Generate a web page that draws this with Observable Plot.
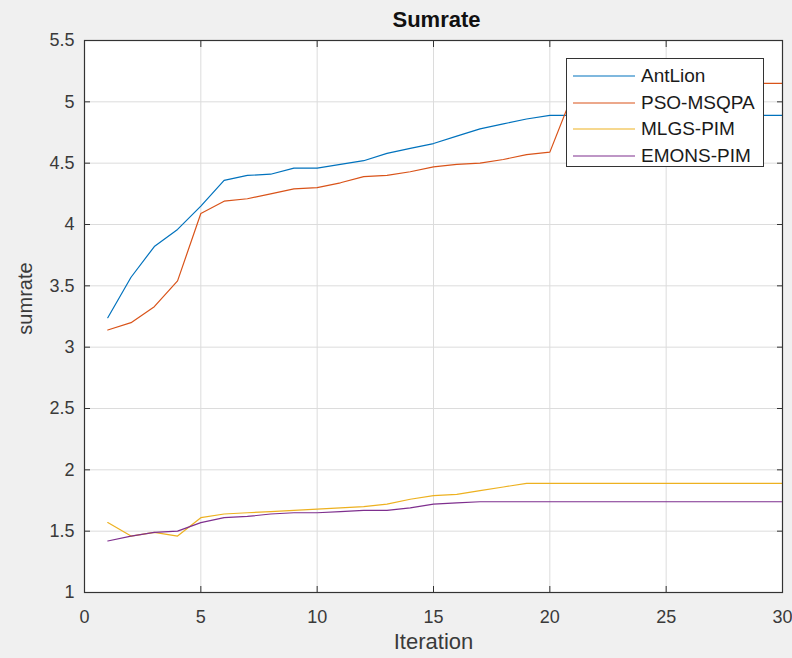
<!DOCTYPE html>
<html>
<head>
<meta charset="utf-8">
<script src="https://cdn.jsdelivr.net/npm/d3@7"></script>
<script src="https://cdn.jsdelivr.net/npm/@observablehq/plot@0.6"></script>
<style>
  html, body { margin: 0; padding: 0; background: #f0f0f0; }
  #wrap { position: relative; width: 792px; height: 658px; font-family: "Liberation Sans", Arial, sans-serif; }
  #legend { position: absolute; left: 566px; top: 58px; width: 196px; height: 107px; background: #fff; border: 1px solid #333; box-sizing: content-box; }
  .item { position: absolute; left: 0; height: 26px; display: flex; align-items: center; font-size: 19px; color: #1a1a1a; }
  .item svg { margin-left: 6px; margin-right: 6px; }
</style>
</head>
<body>
<div id="wrap"></div>
<script>
const iterations = [1,2,3,4,5,6,7,8,9,10,11,12,13,14,15,16,17,18,19,20,21,22,23,24,25,26,27,28,29,30];
const seriesNames = ["AntLion", "PSO-MSQPA", "MLGS-PIM", "EMONS-PIM"];
const antLion = [3.24,3.57,3.82,3.96,4.15,4.36,4.40,4.41,4.46,4.46,4.49,4.52,4.58,4.62,4.66,4.72,4.78,4.82,4.86,4.89,4.89,4.89,4.89,4.89,4.89,4.89,4.89,4.89,4.89,4.89];
const psoMsqpa = [3.14,3.20,3.33,3.54,4.09,4.19,4.21,4.25,4.29,4.30,4.34,4.39,4.40,4.43,4.47,4.49,4.50,4.53,4.57,4.59,5.07,5.15,5.15,5.15,5.15,5.15,5.15,5.15,5.15,5.15];
const mlgsPim = [1.57,1.46,1.49,1.46,1.61,1.64,1.65,1.66,1.67,1.68,1.69,1.70,1.72,1.76,1.79,1.80,1.83,1.86,1.89,1.89,1.89,1.89,1.89,1.89,1.89,1.89,1.89,1.89,1.89,1.89];
const emonsPim = [1.42,1.46,1.49,1.50,1.57,1.61,1.62,1.64,1.65,1.65,1.66,1.67,1.67,1.69,1.72,1.73,1.74,1.74,1.74,1.74,1.74,1.74,1.74,1.74,1.74,1.74,1.74,1.74,1.74,1.74];
const colors = ["#0072BD", "#D95319", "#EDB120", "#7E2F8E"];
const xTicks = [0,5,10,15,20,25,30];
const yTicks = [1,1.5,2,2.5,3,3.5,4,4.5,5,5.5];
const titleText = "Sumrate";
const xLabel = "Iteration";
const yLabel = "sumrate";

const allSeries = [antLion, psoMsqpa, mlgsPim, emonsPim];
const rows = [];
allSeries.forEach((vals, s) => vals.forEach((v, i) => rows.push({iteration: iterations[i], value: v, series: seriesNames[s]})));

const blank = () => "";
const plot = Plot.plot({
  width: 792,
  height: 658,
  marginLeft: 84,
  marginRight: 10,
  marginTop: 40,
  marginBottom: 66,
  style: {background: "#f0f0f0", fontFamily: "Liberation Sans, Arial, sans-serif", fontSize: "18px", color: "#333"},
  x: {domain: [0, 30]},
  y: {domain: [1, 5.5]},
  color: {domain: seriesNames, range: colors},
  marks: [
    Plot.frame({fill: "white", stroke: null}),
    Plot.gridX(xTicks, {stroke: "#dcdcdc", strokeOpacity: 1}),
    Plot.gridY(yTicks, {stroke: "#dcdcdc", strokeOpacity: 1}),
    Plot.line(rows, {x: "iteration", y: "value", z: "series", stroke: "series", strokeWidth: 1.2}),
    Plot.frame({stroke: "#333", strokeWidth: 1.2}),
    Plot.axisX({anchor: "bottom", ticks: xTicks, tickSize: -6, tickFormat: blank, label: null, stroke: "#333"}),
    Plot.axisX({anchor: "top", ticks: xTicks, tickSize: -6, tickFormat: blank, label: null, stroke: "#333"}),
    Plot.axisY({anchor: "left", ticks: yTicks, tickSize: -6, tickFormat: blank, label: null, stroke: "#333"}),
    Plot.axisY({anchor: "right", ticks: yTicks, tickSize: -6, tickFormat: blank, label: null, stroke: "#333"}),
    Plot.axisX({anchor: "bottom", ticks: xTicks, tickSize: 0, tickPadding: 18, label: null, fontSize: 18, fill: "#3a3a3a"}),
    Plot.axisY({anchor: "left", ticks: yTicks, tickSize: 0, tickPadding: 10, tickFormat: d => String(d), label: null, fontSize: 18, fill: "#3a3a3a"}),
    Plot.text([titleText], {frameAnchor: "top", lineAnchor: "middle", textAnchor: "middle", dx: 3, dy: -21, fontSize: 22, fontWeight: "bold", fill: "#111"}),
    Plot.text([xLabel], {frameAnchor: "bottom", lineAnchor: "middle", textAnchor: "middle", dy: 49, fontSize: 22, fill: "#3a3a3a"}),
    Plot.text([yLabel], {frameAnchor: "left", lineAnchor: "middle", textAnchor: "middle", dx: -59, dy: -18, rotate: -90, fontSize: 20, fill: "#3a3a3a"})
  ]
});
const wrap = document.getElementById("wrap");
wrap.appendChild(plot);

const legend = document.createElement("div");
legend.id = "legend";
seriesNames.forEach((name, i) => {
  const item = document.createElement("div");
  item.className = "item";
  item.style.top = (4 + i * 26.5) + "px";
  item.innerHTML = `<svg width="62" height="4"><line x1="0" y1="2" x2="62" y2="2" stroke="${colors[i]}" stroke-width="1.2"/></svg><span>${name}</span>`;
  legend.appendChild(item);
});
wrap.appendChild(legend);
</script>
</body>
</html>
